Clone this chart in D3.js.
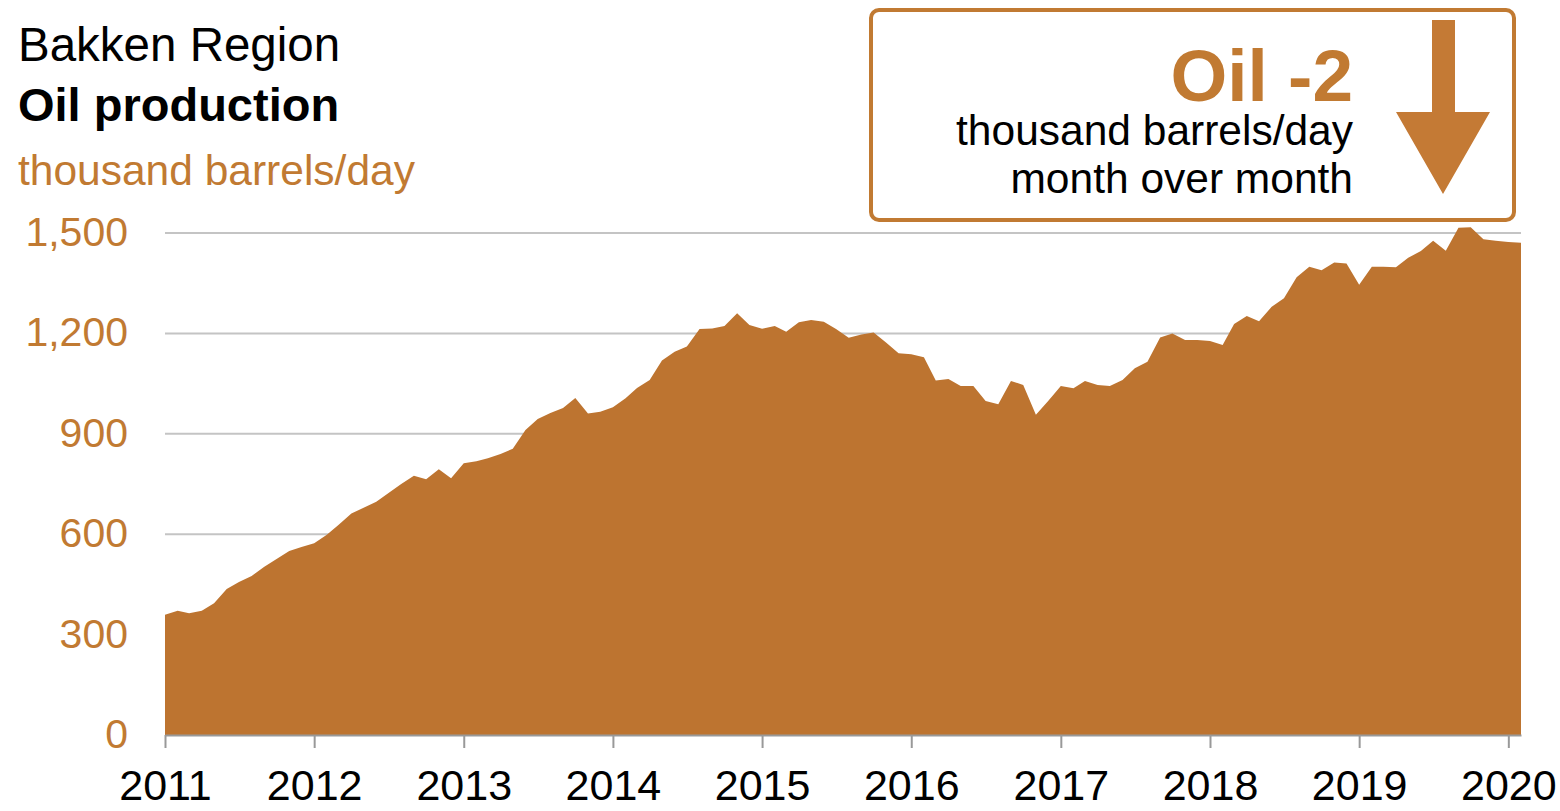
<!DOCTYPE html>
<html>
<head>
<meta charset="utf-8">
<script src="https://cdn.jsdelivr.net/npm/d3@7"></script>
<style>
  body { margin: 0; background: #fff; }
  text { font-family: "Liberation Sans", Arial, sans-serif; }
</style>
</head>
<body>
<div id="container"></div>
<script>
// monthly oil production, thousand barrels/day, Jan 2011 .. Feb 2020
var firstMonth = "2011-01";
var production = [
  359, 371, 364, 371, 394, 436, 457, 475, 503, 526, 550, 562,          // 2011
  573, 598, 628, 662, 679, 697, 723, 750, 775, 764, 794, 767,          // 2012
  812, 818, 827, 840, 855, 911, 944, 962, 977, 1007, 961, 966,         // 2013
  979, 1006, 1037, 1061, 1119, 1145, 1161, 1213, 1215, 1222, 1260, 1225, // 2014
  1214, 1222, 1205, 1233, 1240, 1235, 1213, 1187, 1197, 1203, 1172, 1141, // 2015
  1138, 1129, 1059, 1064, 1043, 1043, 998, 988, 1058, 1046, 957, 998,   // 2016
  1043, 1036, 1058, 1046, 1043, 1061, 1096, 1115, 1188, 1200, 1180, 1180, // 2017
  1177, 1165, 1228, 1252, 1236, 1280, 1305, 1368, 1399, 1389, 1412, 1409, // 2018
  1345, 1399, 1399, 1398, 1426, 1446, 1477, 1447, 1516, 1517, 1481, 1477, // 2019
  1473, 1471                                                            // 2020
];
var yTicks = [0, 300, 600, 900, 1200, 1500];
var xTickYears = [2011, 2012, 2013, 2014, 2015, 2016, 2017, 2018, 2019, 2020];

var titleLines = ["Bakken Region", "Oil production"];
var unitLabel = "thousand barrels/day";
var changeLabel = "Oil -2";
var changeLines = ["thousand barrels/day", "month over month"];

var width = 1560, height = 811;
var fillColor = "#bd7430";
var textOrange = "#c17a32";

var parseMonth = d3.timeParse("%Y-%m");
var start = parseMonth(firstMonth);
var data = production.map(function(v, i) {
    return { date: d3.timeMonth.offset(start, i), value: v };
});

var svg = d3.select("#container").append("svg")
    .attr("width", width)
    .attr("height", height);

var x = d3.scaleTime()
    .domain([start, data[data.length - 1].date])
    .range([165, 1521]);

var y = d3.scaleLinear()
    .domain([0, 1500])
    .range([735, 233]);

// gridlines
svg.append("g")
    .selectAll("line")
    .data(yTicks.filter(function(d) { return d > 0; }))
    .enter().append("line")
    .attr("x1", x.range()[0])
    .attr("x2", x.range()[1])
    .attr("y1", function(d) { return y(d); })
    .attr("y2", function(d) { return y(d); })
    .style("stroke", "#c4c4c4")
    .style("stroke-width", 2);

// y labels
svg.append("g")
    .selectAll("text")
    .data(yTicks)
    .enter().append("text")
    .attr("x", 128)
    .attr("y", function(d) { return y(d) + 13; })
    .attr("text-anchor", "end")
    .style("font-size", "41px")
    .style("fill", textOrange)
    .text(d3.format(","));

// the area
var area = d3.area()
    .x(function(d) { return x(d.date); })
    .y0(y(0))
    .y1(function(d) { return y(d.value); });

svg.append("path")
    .datum(data)
    .attr("d", area)
    .style("fill", fillColor);

// x axis
var xAxis = d3.axisBottom(x)
    .tickValues(xTickYears.map(function(yr) { return new Date(yr, 0, 1); }))
    .tickFormat(d3.timeFormat("%Y"))
    .tickSizeInner(13)
    .tickSizeOuter(0)
    .tickPadding(21);

var gx = svg.append("g")
    .attr("transform", "translate(0," + y(0) + ")")
    .call(xAxis);
gx.select(".domain").style("stroke", "#999").style("stroke-width", 2);
gx.selectAll(".tick line").style("stroke", "#999").style("stroke-width", 2);
gx.selectAll(".tick text")
    .style("font-size", "43px")
    .style("fill", "#000")
    .style("font-family", "'Liberation Sans', Arial, sans-serif");

// titles
svg.append("text")
    .attr("x", 18).attr("y", 61)
    .style("font-size", "47.5px")
    .text(titleLines[0]);
svg.append("text")
    .attr("x", 18).attr("y", 121)
    .style("font-size", "47px")
    .style("font-weight", "bold")
    .text(titleLines[1]);
svg.append("text")
    .attr("x", 18).attr("y", 185)
    .style("font-size", "42.5px")
    .style("fill", textOrange)
    .text(unitLabel);

// annotation box
var box = svg.append("g");
box.append("rect")
    .attr("x", 871).attr("y", 10)
    .attr("width", 643).attr("height", 210)
    .attr("rx", 8)
    .style("fill", "#fff")
    .style("stroke", textOrange)
    .style("stroke-width", 4);

box.append("text")
    .attr("x", 1353).attr("y", 101)
    .attr("text-anchor", "end")
    .style("font-size", "73px")
    .style("font-weight", "bold")
    .style("fill", textOrange)
    .text(changeLabel);

box.selectAll("text.sub")
    .data(changeLines)
    .enter().append("text")
    .attr("class", "sub")
    .attr("x", 1353)
    .attr("y", function(d, i) { return 145 + i * 48; })
    .attr("text-anchor", "end")
    .style("font-size", "42.5px")
    .style("fill", "#000")
    .text(function(d) { return d; });

// down arrow
box.append("path")
    .attr("d", "M1432,20 L1455,20 L1455,112 L1490,112 L1443,194 L1396,112 L1432,112 Z")
    .style("fill", "#c47a35");
</script>
</body>
</html>
